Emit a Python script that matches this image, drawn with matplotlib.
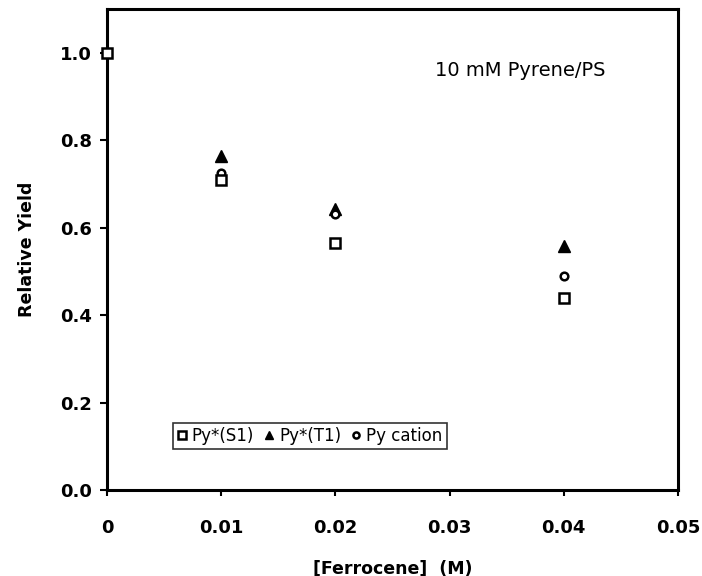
import matplotlib.pyplot as plt

plt.rcParams['font.family'] = ['DejaVu Sans']

ferrocene = [0.0, 0.01, 0.02, 0.04]
s1_yield = [1.0, 0.708, 0.564, 0.438]
t1_yield = [1.0, 0.765, 0.642, 0.557]
cation_yield = [1.0, 0.726, 0.632, 0.489]

fig = plt.figure(figsize=(7.02, 5.76), dpi=100)
ax = fig.add_axes([0.1524, 0.1493, 0.8134, 0.835])

ax.plot(ferrocene[1:], t1_yield[1:], '^', color='k', ms=8, label='Py*(T1)',
        zorder=3, clip_on=False)
ax.plot(ferrocene, cation_yield, 'o', mfc='white', mec='k', mew=1.8, ms=5.5,
        label='Py cation', zorder=4, clip_on=False)
ax.plot(ferrocene, s1_yield, 's', mfc='white', mec='k', mew=1.8, ms=6.5,
        label='Py*(S1)', zorder=5, clip_on=False)

ax.set_xlim(0, 0.05)
ax.set_ylim(0, 1.1)
ax.set_xticks([0, 0.01, 0.02, 0.03, 0.04, 0.05])
ax.set_xticklabels(['0', '0.01', '0.02', '0.03', '0.04', '0.05'])
ax.set_yticks([0.0, 0.2, 0.4, 0.6, 0.8, 1.0])
ax.set_yticklabels(['0.0', '0.2', '0.4', '0.6', '0.8', '1.0'])

for lbl in ax.get_xticklabels() + ax.get_yticklabels():
    lbl.set_fontweight('bold')
    lbl.set_fontsize(13)
ax.tick_params(axis='x', direction='out', length=4, width=1.5, pad=17)
ax.tick_params(axis='y', direction='out', length=5, width=1.5, pad=6)
for sp in ax.spines.values():
    sp.set_linewidth(2.2)

ax.set_xlabel('[Ferrocene]  (M)', fontsize=12.5, fontweight='bold', labelpad=16)
ax.set_ylabel('Relative Yield', fontsize=12.5, fontweight='bold', labelpad=17)

ax.text(0.0287, 0.947, '10 mM Pyrene/PS', fontsize=14, va='baseline')

handles, labels = ax.get_legend_handles_labels()
order = [2, 0, 1]
leg = ax.legend([handles[i] for i in order], [labels[i] for i in order],
                loc='lower left', bbox_to_anchor=(0.115, 0.085), ncol=3,
                fancybox=False, edgecolor='k', fontsize=12, handlelength=0.6,
                handletextpad=0.3, columnspacing=0.6, borderpad=0.25,
                borderaxespad=0, markerscale=0.8)
leg.get_frame().set_linewidth(1.2)

fig.savefig('out.png', dpi=100)
